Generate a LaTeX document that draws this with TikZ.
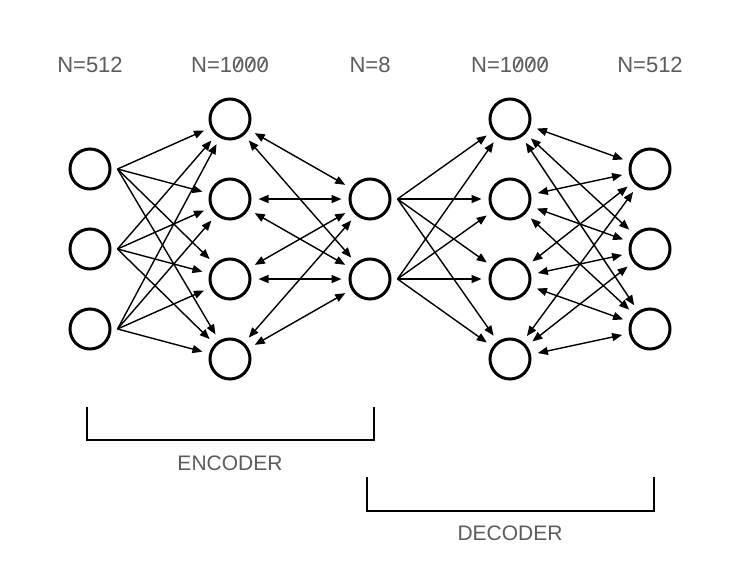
\documentclass[tikz,border=0pt]{standalone}
\usepackage{fontspec}
\usepackage{graphicx}
\setmainfont{Liberation Sans}
\usetikzlibrary{arrows.meta}
\definecolor{lblgray}{HTML}{5C5C5C}
\newcommand\zsl{\rlap{0}\hbox to 0.556em{\hss\raisebox{0.17em}{\rotatebox{62}{\rule{0.42em}{0.08em}}}\hss}}
\tikzset{
  neuron/.style={circle,draw=black,line width=3pt,minimum size=40pt,inner sep=0pt},
  arr/.style={line width=1.4pt,-{Triangle[length=10pt,width=8pt]},shorten >=7pt},
  darr/.style={line width=1.4pt,{Triangle[length=10pt,width=8pt]}-{Triangle[length=10pt,width=8pt]},shorten >=7pt,shorten <=7pt},
  lbl/.style={text=lblgray,font=\fontsize{22pt}{26pt}\selectfont,anchor=base,inner sep=0pt},
  brk/.style={line width=1.8pt,draw=black}
}
\begin{document}
\begin{tikzpicture}[x=1pt,y=-1pt]
\useasboundingbox[fill=white] (0,0) rectangle (736,586);
% layers
\foreach \i/\y in {1/169,2/249,3/329}{\node[neuron] (a\i) at (90,\y) {};}
\foreach \i/\y in {1/119,2/199,3/279,4/359}{\node[neuron] (b\i) at (230,\y) {};}
\foreach \i/\y in {1/199,2/279}{\node[neuron] (c\i) at (370,\y) {};}
\foreach \i/\y in {1/119,2/199,3/279,4/359}{\node[neuron] (d\i) at (510,\y) {};}
\foreach \i/\y in {1/169,2/249,3/329}{\node[neuron] (e\i) at (650,\y) {};}
% start points
\foreach \i in {1,2,3}{\coordinate (ao\i) at ([xshift=6pt]a\i.east);}
\foreach \i in {1,2}{\coordinate (co\i) at ([xshift=6pt]c\i.east);}
% connectors
\foreach \i in {1,2,3}{\foreach \j in {1,2,3,4}{\draw[arr] (ao\i) -- (b\j);}}
\foreach \i in {1,2,3,4}{\foreach \j in {1,2}{\draw[darr] (b\i) -- (c\j);}}
\foreach \i in {1,2}{\foreach \j in {1,2,3,4}{\draw[arr] (co\i) -- (d\j);}}
\foreach \i in {1,2,3,4}{\foreach \j in {1,2,3}{\draw[darr] (d\i) -- (e\j);}}
% labels
\node[lbl] (l1) at (90,72) {N=512};
\node[lbl] (l2) at (230,72) {N=1\zsl\zsl\zsl};
\node[lbl] (l3) at (370,72) {N=8};
\node[lbl] (l4) at (510,72) {N=1\zsl\zsl\zsl};
\node[lbl] (l5) at (650,72) {N=512};
% brackets
\draw[brk] (87,407) -- (87,440) -- (374,440) -- (374,407);
\node[lbl,font=\fontsize{21pt}{25pt}\selectfont] (enc) at (230,470) {ENCODER};
\draw[brk] (367,477) -- (367,511) -- (654,511) -- (654,477);
\node[lbl,font=\fontsize{21pt}{25pt}\selectfont] (dec) at (510,540) {DECODER};
\end{tikzpicture}
\end{document}
